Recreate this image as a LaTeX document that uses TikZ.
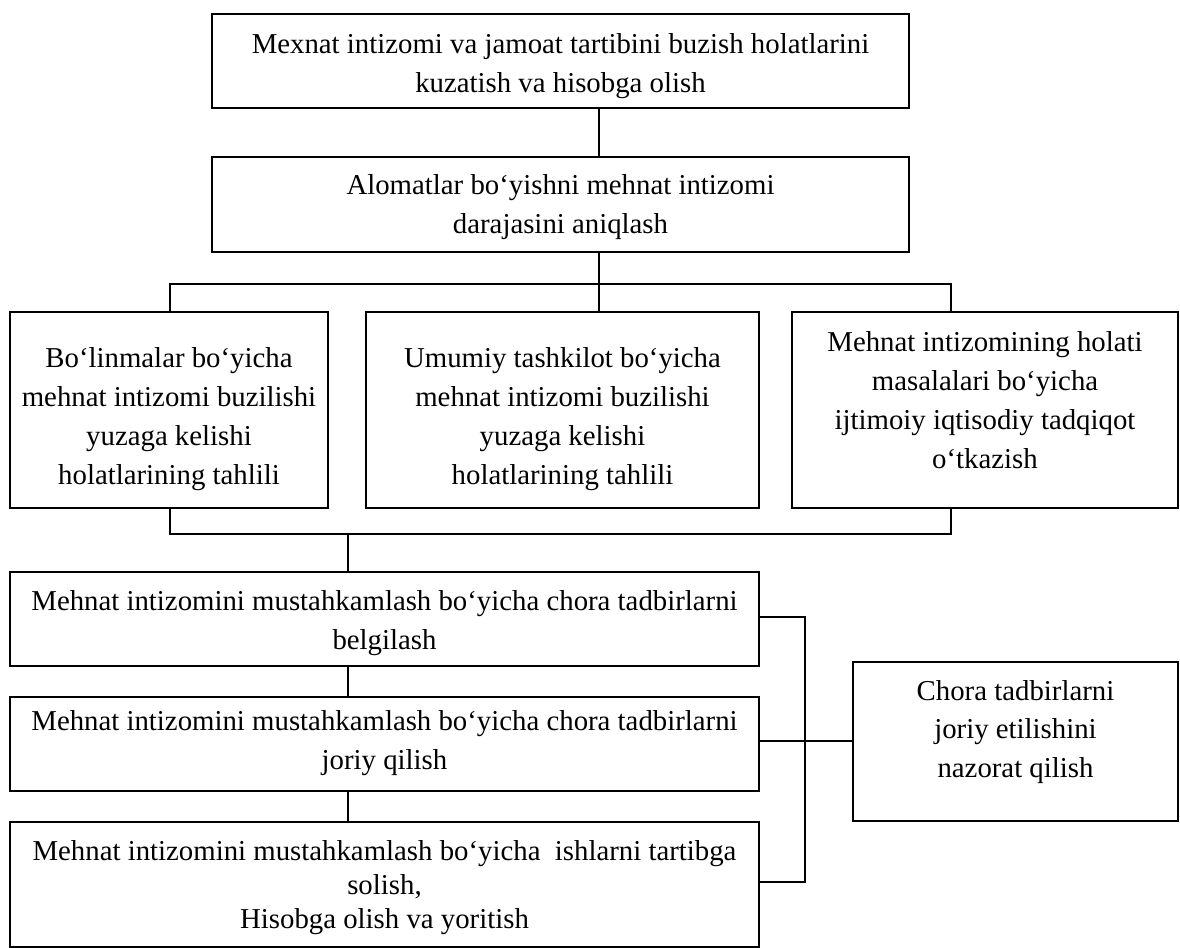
\documentclass[tikz,border=0pt]{standalone}
\usepackage{fontspec}
\setmainfont{Liberation Serif}
\begin{document}
\begin{tikzpicture}[x=0.5pt,y=-0.5pt,
  box/.style={draw, line width=0.9pt, inner sep=0pt},
  txt/.style={inner sep=0pt, align=center, font=\fontsize{14.4}{19.4}\selectfont},
  wire/.style={line width=0.9pt}]
\useasboundingbox (0,0) rectangle (1180,948);

% frames
\node[box, minimum width=348.5pt, minimum height=47pt]   (top) at (560.5,61)   {};
\node[box, minimum width=348.5pt, minimum height=47.5pt] (lvl) at (560.5,204.5) {};
\node[box, minimum width=159pt,   minimum height=98pt]   (ba)  at (169,410)    {};
\node[box, minimum width=196.5pt, minimum height=98pt]   (bb)  at (562.5,410)  {};
\node[box, minimum width=193pt,   minimum height=98pt]   (bc)  at (985,410)    {};
\node[box, minimum width=374.5pt, minimum height=47pt]   (m1)  at (384.5,619)  {};
\node[box, minimum width=374.5pt, minimum height=47pt]   (m2)  at (384.5,744)  {};
\node[box, minimum width=374.5pt, minimum height=62.5pt] (m3)  at (384.5,884.5) {};
\node[box, minimum width=162.5pt, minimum height=79.5pt] (ctl) at (1015.5,741.5) {};

% texts
\node[txt] (top-t) at (560.5,66) {Mexnat intizomi va jamoat tartibini buzish holatlarini\\kuzatish va hisobga olish};
\node[txt] (lvl-t) at (560.5,207) {Alomatlar bo‘yishni mehnat intizomi\\darajasini aniqlash};
\node[txt] (ba-t) at (169,419) {Bo‘linmalar bo‘yicha\\mehnat intizomi buzilishi\\yuzaga kelishi\\holatlarining tahlili};
\node[txt] (bb-t) at (562.5,419) {Umumiy tashkilot bo‘yicha\\mehnat intizomi buzilishi\\yuzaga kelishi\\holatlarining tahlili};
\node[txt] (bc-t) at (985,400) {Mehnat intizomining holati\\masalalari bo‘yicha\\ijtimoiy iqtisodiy tadqiqot\\o‘tkazish};
\node[txt] (m1-t) at (384.5,623) {Mehnat intizomini mustahkamlash bo‘yicha chora tadbirlarni\\belgilash};
\node[txt] (m2-t) at (384.5,743) {Mehnat intizomini mustahkamlash bo‘yicha chora tadbirlarni\\joriy qilish};
\node[txt, font=\fontsize{14.4}{17}\selectfont] (m3-t) at (384.5,888) {Mehnat intizomini mustahkamlash bo‘yicha\ \ ishlarni tartibga\\solish,\\Hisobga olish va yoritish};
\node[txt] (ctl-t) at (1015.5,732) {Chora tadbirlarni\\joriy etilishini\\nazorat qilish};

% junction points
\coordinate (sp) at (599,284);
\coordinate (lb) at (170,284);
\coordinate (rb) at (951,284);
\coordinate (lo) at (170,534);
\coordinate (ro) at (951,534);
\coordinate (dn) at (348,534);
\coordinate (rs) at (805,741);

% connectors
\draw[wire] (top.south -| sp) -- (lvl.north -| sp);
\draw[wire] (lvl.south -| sp) -- (bb.north -| sp);
\draw[wire] (ba.north -| lb) -- (lb) -- (rb) -- (bc.north -| rb);
\draw[wire] (ba.south -| lo) -- (lo) -- (ro) -- (bc.south -| ro);
\draw[wire] (dn) -- (m1.north -| dn);
\draw[wire] (m1.south -| dn) -- (m2.north -| dn);
\draw[wire] (m2.south -| dn) -- (m3.north -| dn);
\draw[wire] (m1.east |- 0,617) -| (rs) |- (m3.east |- 0,882);
\draw[wire] (m2.east |- rs) -- (ctl.west |- rs);
\end{tikzpicture}
\end{document}
